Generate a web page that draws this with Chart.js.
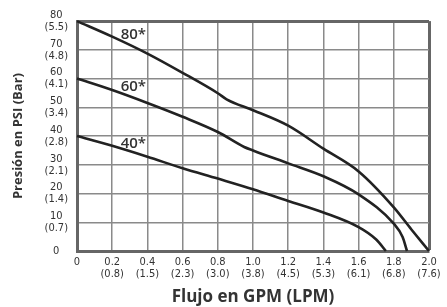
<!DOCTYPE html>
<html>
<head>
<meta charset="utf-8">
<script src="https://cdn.jsdelivr.net/npm/chart.js@4/dist/chart.umd.min.js"></script>
<style>
  body { margin: 0; background: #fff; }
  #wrap { width: 447px; height: 307px; position: relative; }
</style>
</head>
<body>
<div id="wrap"><canvas id="grafico"></canvas></div>
<script>
// tick labels
const gpmTicks = ["0", "0.2", "0.4", "0.6", "0.8", "1.0", "1.2", "1.4", "1.6", "1.8", "2.0"];
const lpmTicks = ["", "0.8", "1.5", "2.3", "3.0", "3.8", "4.5", "5.3", "6.1", "6.8", "7.6"];
const psiTicks = [0, 10, 20, 30, 40, 50, 60, 70, 80];
const barTicks = ["", "0.7", "1.4", "2.1", "2.8", "3.4", "4.1", "4.8", "5.5"];

// curves (flow in GPM, pressure in PSI)
const flow80 = [0, 0.2, 0.4, 0.6, 0.8, 0.85, 1.0, 1.2, 1.4, 1.6, 1.8, 1.9, 2.0];
const psi80 = [80, 74.6, 68.7, 62.0, 54.9, 52.8, 49.0, 43.6, 35.6, 27.7, 15.2, 7.5, 0];

const flow60 = [0, 0.2, 0.4, 0.6, 0.8, 0.95, 1.0, 1.2, 1.4, 1.6, 1.8, 1.85, 1.875];
const psi60 = [60, 56.0, 51.5, 46.7, 41.4, 36.2, 35.0, 30.5, 26.0, 19.7, 9.5, 4.9, 0];

const flow40 = [0, 0.2, 0.4, 0.6, 0.8, 1.0, 1.2, 1.4, 1.6, 1.7, 1.755];
const psi40 = [40, 36.6, 32.8, 28.8, 25.2, 21.5, 17.4, 13.4, 8.3, 4.0, 0];

const curveNames = ["80*", "60*", "40*"];
const labelFlow = [0.32, 0.32, 0.32];
const labelPsi = [75.3, 57.2, 37.5];

function pts(xs, ys) {
  return xs.map((x, i) => ({ x: x, y: ys[i] }));
}

function serie(name, xs, ys) {
  return {
    label: name,
    data: pts(xs, ys),
    borderColor: "#222",
    borderWidth: 2.6,
    pointRadius: 0,
    cubicInterpolationMode: "monotone",
    clip: false
  };
}

const curveLabels = {
  id: "curveLabels",
  afterDatasetsDraw(chart) {
    const c = chart.ctx;
    const xs = chart.scales.x;
    const ys = chart.scales.y;
    c.save();
    c.font = "600 15px 'Open Sans'";
    c.fillStyle = "#333";
    c.textAlign = "center";
    c.textBaseline = "middle";
    curveNames.forEach((t, i) => {
      c.fillText(t, xs.getPixelForValue(labelFlow[i]), ys.getPixelForValue(labelPsi[i]));
    });
    c.restore();
  }
};

const tickFont = { family: "'DejaVu Sans Condensed', 'DejaVu Sans'", size: 11, lineHeight: 1.1 };

let chart = new Chart(document.getElementById("grafico"), {
  type: "line",
  data: {
    datasets: [
      serie("80", flow80, psi80),
      serie("60", flow60, psi60),
      serie("40", flow40, psi40)
    ]
  },
  plugins: [curveLabels],
  options: {
    responsive: true,
    maintainAspectRatio: false,
    animation: false,
    layout: { padding: { top: 17, right: 18, left: 0, bottom: 0 } },
    plugins: {
      legend: { display: false },
      tooltip: { enabled: false }
    },
    scales: {
      x: {
        type: "linear",
        min: 0,
        max: 2,
        afterFit(s) { s.height = 56; },
        ticks: {
          stepSize: 0.2,
          padding: 5,
          color: "#333",
          font: tickFont,
          maxRotation: 0,
          autoSkip: false,
          callback: (v, i) => i === 0 ? gpmTicks[0] : [gpmTicks[i], "(" + lpmTicks[i] + ")"]
        },
        grid: {
          drawTicks: false,
          color: ctx => ctx.tick && ctx.tick.value > 1.99 ? "#666" : "#8a8a8a",
          lineWidth: ctx => ctx.tick && ctx.tick.value > 1.99 ? 3 : 1.5
        },
        border: { color: "#666", width: 3 },
        title: {
          display: true,
          text: "Flujo en GPM (LPM)",
          color: "#333",
          font: { family: "'Open Sans'", size: 17, weight: "bold" },
          padding: { top: 0, bottom: 0 }
        }
      },
      y: {
        min: 0,
        max: 80,
        afterFit(s) { s.width = 77; },
        ticks: {
          stepSize: 10,
          padding: 9,
          color: "#333",
          font: tickFont,
          crossAlign: "center",
          callback: (v) => {
            const i = psiTicks.indexOf(v);
            return i <= 0 ? String(v) : [String(psiTicks[i]), "(" + barTicks[i] + ")"];
          }
        },
        grid: {
          drawTicks: false,
          color: ctx => ctx.tick && ctx.tick.value > 79.9 ? "#666" : "#8a8a8a",
          lineWidth: ctx => ctx.tick && ctx.tick.value > 79.9 ? 3 : 1.5
        },
        border: { color: "#666", width: 3 },
        title: {
          display: true,
          text: "Presión en PSI (Bar)",
          color: "#333",
          font: { family: "'Open Sans'", size: 13, weight: "bold" },
          padding: { top: 10, bottom: 0 }
        }
      }
    }
  }
});
</script>
</body>
</html>
